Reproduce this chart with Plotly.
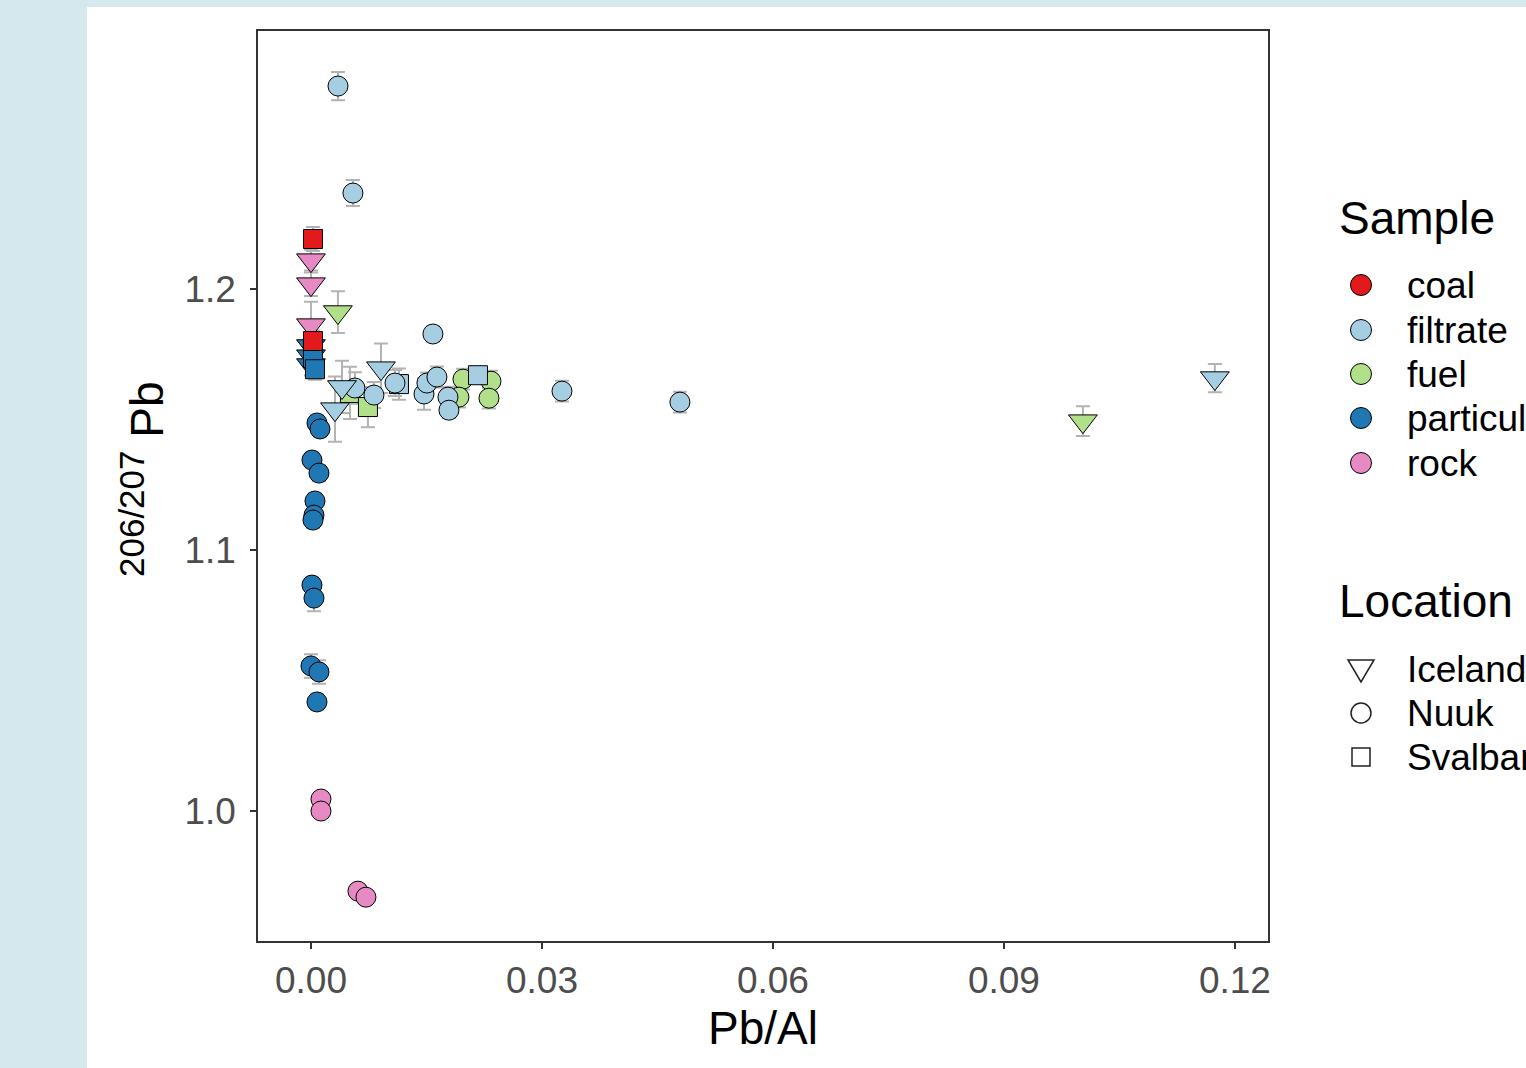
import plotly.graph_objects as go

# ---------------- data ----------------
sample_names = ["coal", "filtrate", "fuel", "particulate", "rock"]
location_names = ["Iceland", "Nuuk", "Svalbard"]

coal_loc = ["Svalbard", "Svalbard"]
coal_pbal = [0.00026, 0.00026]
coal_ratio = [1.2192, 1.1801]
coal_err = [0.0046, 0.004]

rock_loc = ["Iceland", "Iceland", "Iceland", "Nuuk", "Nuuk", "Nuuk", "Nuuk"]
rock_pbal = [0.0000, 0.0000, 0.0000, 0.0013, 0.0013, 0.0061, 0.00714]
rock_ratio = [1.2111, 1.2019, 1.1862, 1.0046, 1.0000, 0.9693, 0.9670]
rock_err = [0.004, 0.0045, 0.009, 0.002, 0.002, 0.002, 0.002]

part_loc = ["Nuuk"] * 12 + ["Iceland"] * 3 + ["Svalbard"] * 2
part_pbal = [0.00078, 0.00117, 0.00013, 0.00104, 0.00052, 0.00039, 0.00026,
             0.00013, 0.00039, 0.0000, 0.00104, 0.00078,
             0.0000, 0.0000, 0.0000,
             0.00026, 0.00052]
part_ratio = [1.1487, 1.1464, 1.1345, 1.1295, 1.1188, 1.1134, 1.1115,
              1.0866, 1.0816, 1.0556, 1.0533, 1.0418,
              1.1782, 1.1743, 1.1709,
              1.1736, 1.1693]
part_err = [0.003, 0.003, 0.003, 0.003, 0.003, 0.003, 0.003,
            0.003, 0.005, 0.0045, 0.0045, 0.003,
            0.004, 0.004, 0.004,
            0.004, 0.004]

filt_loc = ["Svalbard"] * 2 + ["Nuuk"] * 13 + ["Iceland"] * 4
filt_pbal = [0.01143, 0.02169,
             0.00351, 0.00545, 0.01584, 0.00571, 0.00818, 0.01091, 0.01468,
             0.01506, 0.01636, 0.01779, 0.01792, 0.0326, 0.04792,
             0.00909, 0.00403, 0.00312, 0.1174]
filt_ratio = [1.1636, 1.1670,
              1.2778, 1.2368, 1.1828, 1.1621, 1.1594, 1.1640, 1.1598,
              1.1640, 1.1663, 1.1586, 1.1536, 1.1609, 1.1567,
              1.1697, 1.1625, 1.1540, 1.1659]
filt_err = [0.006, 0.003,
            0.0054, 0.005, 0.003, 0.006, 0.005, 0.005, 0.006,
            0.004, 0.004, 0.004, 0.003, 0.004, 0.004,
            0.0095, 0.010, 0.0125, 0.0054]

fuel_loc = ["Nuuk"] * 4 + ["Svalbard"] * 2 + ["Iceland"] * 2
fuel_pbal = [0.01974, 0.01922, 0.02338, 0.02312, 0.00506, 0.0074, 0.0035, 0.10026]
fuel_ratio = [1.1655, 1.1586, 1.1647, 1.1582, 1.1602, 1.1548, 1.1912, 1.1494]
fuel_err = [0.004, 0.004, 0.004, 0.004, 0.010, 0.0077, 0.008, 0.0057]

x_ticks = [0.00, 0.03, 0.06, 0.09, 0.12]
y_ticks = [1.0, 1.1, 1.2]

# ---------------- style ----------------
COLORS = {"coal": "#e31a1c", "filtrate": "#a6cee3", "fuel": "#b2df8a",
          "particulate": "#1f78b4", "rock": "#e78ac3"}
SYMBOLS = {"Iceland": "triangle-down", "Nuuk": "circle", "Svalbard": "square"}
SIZES = {"Iceland": 25, "Nuuk": 20, "Svalbard": 19}
FONT = "Liberation Sans, Arial, sans-serif"

series = {
    "coal": (coal_loc, coal_pbal, coal_ratio, coal_err),
    "filtrate": (filt_loc, filt_pbal, filt_ratio, filt_err),
    "fuel": (fuel_loc, fuel_pbal, fuel_ratio, fuel_err),
    "particulate": (part_loc, part_pbal, part_ratio, part_err),
    "rock": (rock_loc, rock_pbal, rock_ratio, rock_err),
}
draw_order = ["particulate", "rock", "fuel", "filtrate", "coal"]

fig = go.Figure()

# error bars (all beneath points)
all_x, all_y, all_e = [], [], []
for s in draw_order:
    loc, xs, ys, es = series[s]
    all_x += xs
    all_y += ys
    all_e += es
fig.add_trace(go.Scatter(
    x=all_x, y=all_y, mode="markers",
    marker=dict(color="rgba(0,0,0,0)", size=2, opacity=1),
    error_y=dict(type="data", array=all_e, visible=True,
                 color="#b3b3b3", thickness=2, width=7),
    showlegend=False, hoverinfo="skip"))

for s in draw_order:
    loc, xs, ys, es = series[s]
    fig.add_trace(go.Scatter(
        x=xs, y=ys, mode="markers", name=s, showlegend=False,
        marker=dict(color=COLORS[s], opacity=1,
                    symbol=[SYMBOLS[l] for l in loc],
                    size=[SIZES[l] for l in loc],
                    line=dict(color="black", width=1))))

L, R, T, B = 258, 1268, 31, 941
W, H = 1526, 1068
pw, ph = R - L, B - T


def px2paper_x(p):
    return (p - L) / pw


def px2paper_y(p):
    return (B - p) / ph


shapes = [dict(type="rect", xref="paper", yref="paper", layer="below",
               x0=px2paper_x(87), x1=px2paper_x(1600),
               y0=px2paper_y(1200), y1=px2paper_y(7),
               fillcolor="white", line=dict(width=0))]
annotations = [
    dict(text="Pb/Al", xref="paper", yref="paper", x=0.5, y=px2paper_y(1028),
         xanchor="center", yanchor="middle", showarrow=False,
         font=dict(size=46, family=FONT, color="black")),
    dict(text="<sup><span style='font-size:35px'>206/207</span></sup> Pb",
         xref="paper", yref="paper",
         x=px2paper_x(142), y=px2paper_y(479), textangle=-90,
         xanchor="center", yanchor="middle", showarrow=False,
         font=dict(size=46, family=FONT, color="black")),
]

# ---------------- legends (keys drawn in paper space) ----------------
KEY_X, TEXT_X, TITLE_X = 1361, 1405, 1337
sample_title_y, sample_rows_y = 218, [285, 330, 374, 418, 463]
loc_title_y, loc_rows_y = 601, [669, 713, 757]


def add_text(txt, x_px, y_px, size):
    annotations.append(dict(text=txt, xref="paper", yref="paper",
                            x=px2paper_x(x_px), y=px2paper_y(y_px),
                            xanchor="left", yanchor="middle", showarrow=False,
                            font=dict(size=size, family=FONT, color="black")))


def path_from_px(points):
    parts = []
    for i, (px, py) in enumerate(points):
        parts.append(("M" if i == 0 else "L") + f"{px2paper_x(px):.6f},{px2paper_y(py):.6f}")
    return " ".join(parts) + " Z"


add_text("Sample", TITLE_X, sample_title_y, 46)
for name, yy in zip(sample_names, sample_rows_y):
    r = 10.5
    shapes.append(dict(type="circle", xref="paper", yref="paper",
                       x0=px2paper_x(KEY_X - r), x1=px2paper_x(KEY_X + r),
                       y0=px2paper_y(yy + r), y1=px2paper_y(yy - r),
                       fillcolor=COLORS[name], line=dict(color="black", width=1)))
    add_text(name, TEXT_X, yy, 37)

add_text("Location", TITLE_X, loc_title_y, 46)
for name, yy in zip(location_names, loc_rows_y):
    if SYMBOLS[name] == "triangle-down":
        shapes.append(dict(type="path", xref="paper", yref="paper",
                           path=path_from_px([(KEY_X - 13, yy - 9), (KEY_X + 13, yy - 9),
                                              (KEY_X, yy + 13)]),
                           fillcolor="white", line=dict(color="#222222", width=1.5)))
    elif SYMBOLS[name] == "circle":
        r = 10
        shapes.append(dict(type="circle", xref="paper", yref="paper",
                           x0=px2paper_x(KEY_X - r), x1=px2paper_x(KEY_X + r),
                           y0=px2paper_y(yy + r), y1=px2paper_y(yy - r),
                           fillcolor="white", line=dict(color="#222222", width=1.5)))
    else:
        h = 9
        shapes.append(dict(type="rect", xref="paper", yref="paper",
                           x0=px2paper_x(KEY_X - h), x1=px2paper_x(KEY_X + h),
                           y0=px2paper_y(yy + h), y1=px2paper_y(yy - h),
                           fillcolor="white", line=dict(color="#222222", width=1.5)))
    add_text(name, TEXT_X, yy, 37)

axis_common = dict(showline=True, mirror=True, linecolor="#333333", linewidth=1.5,
                   ticks="outside", ticklen=6, tickwidth=1.5, tickcolor="#333333",
                   showgrid=False, zeroline=False,
                   tickfont=dict(family=FONT, size=37, color="#4d4d4d"))

fig.update_layout(
    width=W, height=H,
    margin=dict(l=L, r=W - R, t=T, b=H - B, autoexpand=False),
    paper_bgcolor="#d5e8ee", plot_bgcolor="white",
    font=dict(family=FONT, color="black"),
    showlegend=False,
    xaxis=dict(range=[-0.00688, 0.1243], tickvals=x_ticks, tickformat=".2f",
               ticklabelstandoff=0, **axis_common),
    yaxis=dict(range=[0.9502, 1.2989], tickvals=y_ticks, tickformat=".1f",
               ticklabelstandoff=7, **axis_common),
    shapes=shapes,
    annotations=annotations,
)

fig.write_html("out.html",
               config={"displayModeBar": False},
               post_script="document.body.style.margin='0px';"
                           "document.body.style.overflow='hidden';")
